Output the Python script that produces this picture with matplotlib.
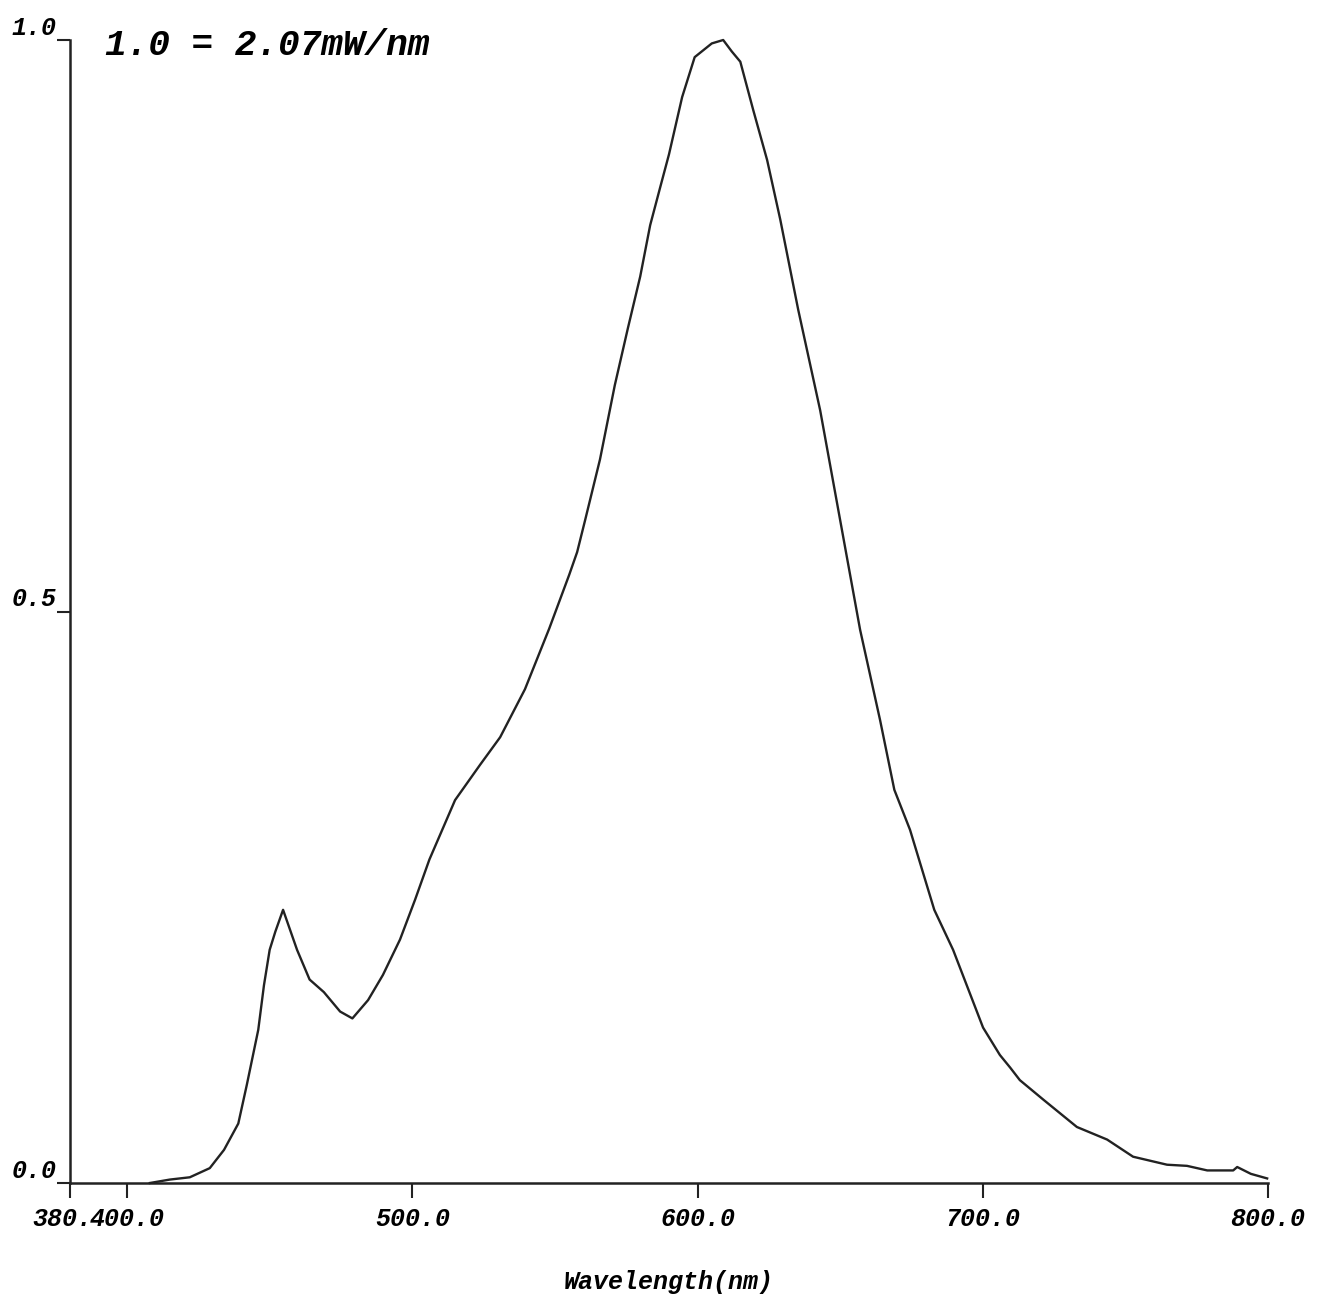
import matplotlib
matplotlib.use("Agg")
import matplotlib.pyplot as plt
from matplotlib.transforms import offset_copy

wavelength = [408, 415, 422, 429, 434, 439, 442, 446, 448, 450, 452, 454.7,
              459.6, 464, 469, 474.7, 479, 484.5, 489.7, 495.7, 501, 506,
              515, 523.8, 530.8, 539.5, 548, 555, 557.8, 560.6, 565.8, 571,
              575.6, 579.9, 583.4, 586.9, 590, 594.6, 599, 605, 609, 612,
              615, 619.5, 624.4, 629, 635.3, 643, 650, 657, 664, 669,
              674.5, 683, 689.6, 700.1, 706, 709.6, 713, 721.2, 733, 743.6,
              752.7, 764.6, 771.6, 778.7, 787.8, 789.2, 794, 799.7]
intensity = [0.0, 0.003, 0.005, 0.013, 0.029, 0.052, 0.086, 0.134, 0.173, 0.204, 0.22, 0.239,
             0.204, 0.178, 0.167, 0.150, 0.144, 0.160, 0.182, 0.213, 0.248, 0.283,
             0.335, 0.366, 0.390, 0.432, 0.485, 0.532, 0.552, 0.580, 0.633, 0.698,
             0.748, 0.793, 0.838, 0.871, 0.90, 0.950, 0.985, 0.997, 1.0, 0.99,
             0.981, 0.939, 0.895, 0.843, 0.764, 0.676, 0.580, 0.484, 0.405, 0.344,
             0.309, 0.239, 0.204, 0.136, 0.112, 0.101, 0.090, 0.073, 0.049, 0.038,
             0.023, 0.016, 0.015, 0.011, 0.011, 0.014, 0.008, 0.004]

x_ticks = [380, 400, 500, 600, 700, 800]
x_labels = ["380.", "400.0", "500.0", "600.0", "700.0", "800.0"]
y_ticks = [0.0, 0.5, 1.0]
y_labels = ["0.0", "0.5", "1.0"]
title_text = "1.0 = 2.07mW/nm"
x_title = "Wavelength(nm)"

W, H = 1325, 1313
fig = plt.figure(figsize=(W / 100, H / 100), dpi=100)
left, right, bottom_px, top_px = 70, 1268, 1183, 40
ax = fig.add_axes([left / W, 1 - bottom_px / H, (right - left) / W, (bottom_px - top_px) / H])

font = dict(family="Liberation Mono", weight="bold", style="italic")
ax.plot(wavelength, intensity, color="#222222", lw=1.7, clip_on=False)
ax.set_xlim(380, 800)
ax.set_ylim(0, 1.0)

for s in ["top", "right"]:
    ax.spines[s].set_visible(False)
for s in ["left", "bottom"]:
    ax.spines[s].set_linewidth(1.8)
    ax.spines[s].set_color("#222222")

ax.set_xticks(x_ticks)
ax.set_xticklabels(x_labels, fontsize=18, **font)
ax.tick_params(axis="x", direction="out", length=11, width=1.5, pad=6, colors="#222222")
xl = ax.get_xticklabels()
for lab in xl:
    lab.set_color("black")
xl[0].set_transform(offset_copy(xl[0].get_transform(), fig=fig, x=-8, y=0, units="dots"))

ax.set_yticks(y_ticks)
ax.set_yticklabels(y_labels, fontsize=18, **font)
ax.tick_params(axis="y", direction="out", length=9.5, width=1.5, pad=0, colors="#222222")
for lab in ax.get_yticklabels():
    lab.set_verticalalignment("bottom")
    lab.set_color("black")

ax.text(0.029, 0.995, title_text, transform=ax.transAxes, fontsize=26,
        ha="left", va="center", color="black", **font)
ax.set_xlabel(x_title, fontsize=18, labelpad=28, **font)

fig.savefig("out.png", dpi=100, facecolor="white")
